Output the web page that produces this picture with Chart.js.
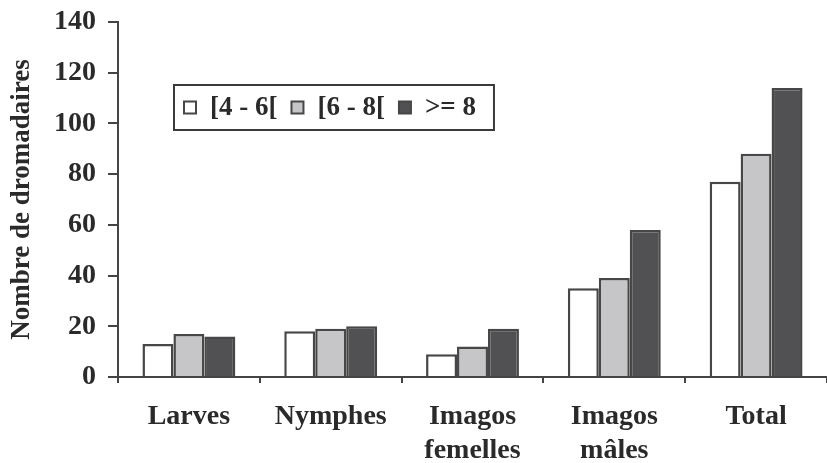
<!DOCTYPE html>
<html><head><meta charset="utf-8">
<script src="https://cdn.jsdelivr.net/npm/chart.js@4"></script>
<style>html,body{margin:0;padding:0;background:#fff}#c{display:block}</style>
</head><body>
<canvas id="c" width="827" height="463"></canvas>
<script>
const categories = [["Larves"], ["Nymphes"], ["Imagos", "femelles"], ["Imagos", "mâles"], ["Total"]];
const seriesLabels = ["[4 - 6[", "[6 - 8[", ">= 8"];
const values46 = [13, 18, 9, 35, 77];
const values68 = [17, 19, 12, 39, 88];
const values8 = [16, 20, 19, 58, 114];
const yTickValues = [0, 20, 40, 60, 80, 100, 120, 140];
const yTitle = "Nombre de dromadaires";

const FONT = "'Liberation Serif', 'Times New Roman', serif";
const fills = ["#ffffff", "#c6c6c8", "#515153"];
const border = "#474747";

const boxLegend = {
  id: 'boxLegend',
  afterDraw(chart) {
    const ctx = chart.ctx;
    const ca = chart.chartArea;
    const x0 = ca.left + 56, y0 = ca.top + 63, h = 45;
    ctx.save();
    ctx.font = "bold 27px " + FONT;
    ctx.textBaseline = 'middle';
    let x = x0 + 10;
    const items = [];
    chart.data.datasets.forEach((ds, i) => {
      items.push({x, ds});
      x += 12 + 14 + ctx.measureText(ds.label).width + 14;
    });
    const w = x - 14 + 18 - x0;
    ctx.lineWidth = 2;
    ctx.strokeStyle = "#3a3a3a";
    ctx.fillStyle = "#fff";
    ctx.fillRect(x0, y0, w, h);
    ctx.strokeRect(x0, y0, w, h);
    const cy = y0 + h / 2;
    items.forEach(it => {
      ctx.fillStyle = it.ds.backgroundColor;
      ctx.fillRect(it.x, cy - 6, 12, 12);
      ctx.lineWidth = 2;
      ctx.strokeStyle = border;
      ctx.strokeRect(it.x, cy - 6, 12, 12);
      ctx.fillStyle = "#2a2a2a";
      ctx.fillText(it.ds.label, it.x + 26, cy + 1);
    });
    ctx.restore();
  }
};

new Chart(document.getElementById('c'), {
  type: 'bar',
  data: {
    labels: categories,
    datasets: [
      {label: seriesLabels[0], data: values46, backgroundColor: fills[0]},
      {label: seriesLabels[1], data: values68, backgroundColor: fills[1]},
      {label: seriesLabels[2], data: values8, backgroundColor: fills[2]}
    ].map(d => Object.assign(d, {borderColor: border, borderWidth: 2.5, categoryPercentage: 0.655, barPercentage: 1}))
  },
  options: {
    responsive: false,
    animation: false,
    layout: {padding: {top: 22, right: 0, left: 0, bottom: 0}},
    plugins: {legend: {display: false}, tooltip: {enabled: false}},
    scales: {
      x: {
        grid: {drawOnChartArea: false, drawTicks: true, tickLength: 6, color: "#444", lineWidth: 2, offset: true},
        border: {color: "#444", width: 2},
        ticks: {color: "#2a2a2a", font: {family: FONT, size: 28, weight: 'bold', lineHeight: 1.22}, padding: 17, maxRotation: 0, autoSkip: false},
        afterFit(s) { s.height = 86; }
      },
      y: {
        min: 0, max: 140,
        afterBuildTicks(s) { s.ticks = yTickValues.map(v => ({value: v})); },
        grid: {drawOnChartArea: false, drawTicks: true, tickLength: 10, color: "#444", lineWidth: 2},
        border: {color: "#444", width: 2},
        ticks: {color: "#2a2a2a", font: {family: FONT, size: 28, weight: 'bold', lineHeight: 0.4}, padding: 12},
        title: {display: true, text: yTitle, color: "#2a2a2a", font: {family: FONT, size: 27, weight: 'bold'}, padding: {top: 6, bottom: 0}},
        afterFit(s) { s.width = 118; }
      }
    }
  },
  plugins: [boxLegend]
});
</script>
</body></html>
